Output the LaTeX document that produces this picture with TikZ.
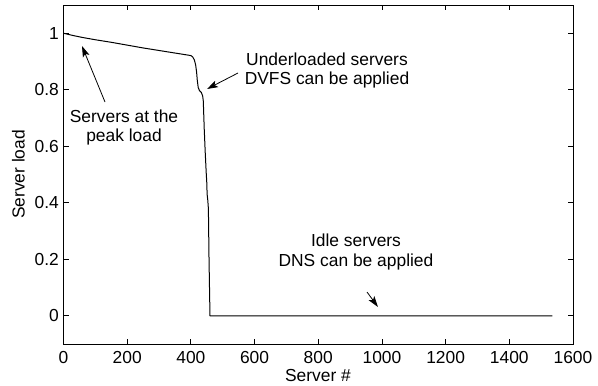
\documentclass[tikz,border=0pt]{standalone}
\usepackage{fontspec}
\setmainfont{Liberation Sans}
\usetikzlibrary{arrows.meta}
\begin{document}
\begin{tikzpicture}[x=1pt,y=-1pt,
  lbl/.style={font=\fontsize{17.4}{19.4}\selectfont, inner sep=0pt},
  note/.style={lbl, align=center, anchor=north},
  axisline/.style={line width=1pt},
  tickmark/.style={line width=0.8pt},
  pointer/.style={line width=0.8pt, -{Stealth[length=11pt,width=7pt,inset=2.5pt]}},
  loadcurve/.style={line width=1pt, line join=round}]
\useasboundingbox (0,0) rectangle (598,386);

% data area: server index along x, load along y
\begin{scope}[shift={(63.5,315.75)}, x=0.318437pt, y=282.5pt]
  % frame
  \draw[axisline] (0,-0.1) rectangle (1600,1.1);
  % ticks on all four sides, pointing inwards
  \foreach \s in {200,400,...,1400} {
    \draw[tickmark] (\s,-0.1) -- ++(0,5pt);
    \draw[tickmark] (\s,1.1) -- ++(0,-5pt);
  }
  \foreach \v in {0,0.2,0.4,0.6,0.8,1} {
    \draw[tickmark] (0,\v) -- ++(5pt,0);
    \draw[tickmark] (1600,\v) -- ++(-5pt,0);
  }
  % tick labels
  \foreach \s in {0,200,...,1600}
    \node[lbl, anchor=north] (xt\s) at (\s,-0.1) [yshift=-7pt] {\s};
  \foreach \v [count=\i] in {0,0.2,0.4,0.6,0.8,1}
    \node[lbl, anchor=east] (yt\i) at (0,\v) [xshift=-4.5pt] {\v};
  % sorted server load
  \draw[loadcurve] plot coordinates {
    (0,1.0) (30,0.992) (60,0.985) (100,0.977) (150,0.968) (200,0.958)
    (250,0.948) (300,0.939) (350,0.930) (400,0.921) (406,0.916)
    (411,0.905) (415,0.888) (418,0.862) (420,0.835) (423,0.808)
    (427,0.797) (433,0.790) (437,0.778) (439,0.760) (442,0.660)
    (445,0.580) (448,0.510) (450,0.470) (451,0.430) (453,0.410)
    (455,0.380) (457,0.200) (460,0.0) (1535,0.0)};
\end{scope}

% axis titles
\node[lbl] (xlabel) at (318,376) {Server \#};
\node[lbl, rotate=90] (ylabel) at (18.5,174.5) {Server load};

% annotations
\node[note] (peak) at (124,109.3) {Servers at the\\peak load};
\node[note] (under) at (327,52.6) {Underloaded servers\\DVFS can be applied};
\node[note] (idle) at (356,234.1) {Idle servers\\DNS can be applied};

\coordinate (peaktail) at (105,102);
\coordinate (peaktip) at (82,46);
\coordinate (undertail) at (238,73);
\coordinate (undertip) at (207,89);
\coordinate (idletail) at (367,292);
\coordinate (idletip) at (378,307);

\draw[pointer] (peaktail) -- (peaktip);
\draw[pointer] (undertail) -- (undertip);
\draw[pointer] (idletail) -- (idletip);
\end{tikzpicture}
\end{document}
